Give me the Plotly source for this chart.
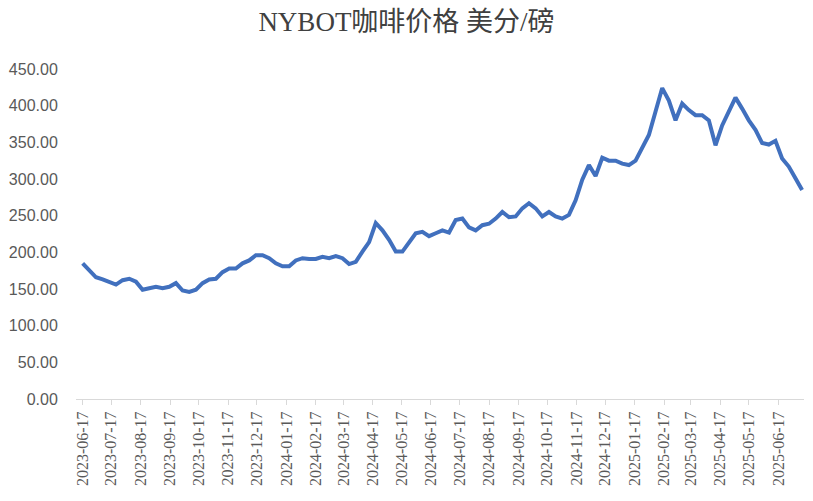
import pandas as pd
import plotly.graph_objects as go

start_date = "2023-06-17"
prices = [
    185, 176, 166, 163, 160, 156, 162, 164, 160, 149,
    151, 153, 151, 153, 158, 148, 146, 149, 158, 163,
    164, 173, 178, 178, 185, 189, 196, 196, 192, 185,
    181, 181, 189, 192, 191, 191, 194, 192, 195, 192,
    184, 187, 201, 214, 240, 230, 217, 201, 201, 214,
    226, 228, 222, 226, 230, 227, 244, 246, 234, 230,
    237, 239, 246, 255, 248, 249, 260, 267, 260, 249,
    255, 249, 246, 251, 271, 299, 319, 304, 329, 325,
    325, 321, 319, 325, 342, 360, 392, 424, 407, 380,
    403, 394, 387, 387, 380, 346, 373, 392, 411, 396,
    380, 367, 349, 347, 352, 328, 317, 301, 285,
]
dates = pd.date_range(start_date, periods=len(prices), freq="7D")

tick_labels = [
    "2023-06-17", "2023-07-17", "2023-08-17", "2023-09-17", "2023-10-17",
    "2023-11-17", "2023-12-17", "2024-01-17", "2024-02-17", "2024-03-17",
    "2024-04-17", "2024-05-17", "2024-06-17", "2024-07-17", "2024-08-17",
    "2024-09-17", "2024-10-17", "2024-11-17", "2024-12-17", "2025-01-17",
    "2025-02-17", "2025-03-17", "2025-04-17", "2025-05-17", "2025-06-17",
]
y_ticks = [0, 50, 100, 150, 200, 250, 300, 350, 400, 450]

fig = go.Figure()
fig.add_trace(go.Scatter(
    x=dates, y=prices, mode="lines",
    line=dict(color="#4170BE", width=4),
    hoverinfo="x+y",
))

fig.update_layout(
    width=813, height=501,
    margin=dict(l=70, r=9, t=69, b=102),
    paper_bgcolor="white", plot_bgcolor="white",
    showlegend=False,
    title=dict(
        text="NYBOT咖啡价格 美分/磅",
        x=0.5, xanchor="center", y=0.956, yanchor="middle",
        font=dict(family="Liberation Serif, Noto Sans CJK SC, serif", size=27, color="#404040"),
    ),
    xaxis=dict(
        type="date",
        range=["2023-06-10", "2025-07-14"],
        tickvals=tick_labels,
        ticktext=tick_labels,
        tickangle=-90,
        tickfont=dict(family="Liberation Serif, serif", size=16, color="#595959"),
        showgrid=False,
        showline=True, linecolor="#d9d9d9", linewidth=1,
        ticks="outside", ticklen=5, tickcolor="#d9d9d9",
        zeroline=False,
    ),
    yaxis=dict(
        range=[0, 450],
        tickvals=y_ticks,
        ticktext=[f"{v:.2f}" for v in y_ticks],
        tickfont=dict(family="Liberation Sans, sans-serif", size=16, color="#595959"),
        showgrid=False,
        showline=False,
        zeroline=False,
        ticks="outside", ticklen=14, tickcolor="rgba(0,0,0,0)",
    ),
)

fig.write_html(
    "out.html",
    config={"displayModeBar": False},
    post_script="document.body.style.margin='0';",
)
